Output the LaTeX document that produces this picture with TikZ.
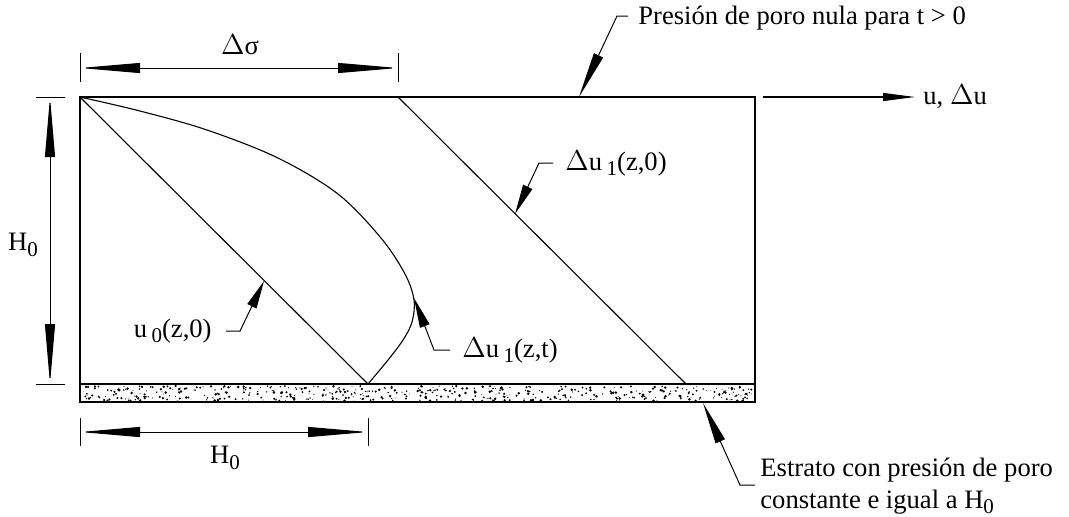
\documentclass[tikz,border=0pt]{standalone}
\usepackage{fontspec}
\setmainfont{Liberation Serif}
\usetikzlibrary{arrows.meta,positioning,calc}

\newcommand{\low}[1]{\raisebox{-0.45ex}{\fontsize{10.5}{10.5}\selectfont #1}}

\begin{document}
\begin{tikzpicture}[
    x=0.5pt, y=-0.5pt,
    font=\fontsize{13.3}{16}\selectfont,
    wall/.style={line width=0.55pt},
    tick/.style={line width=0.5pt},
    dimline/.style={line width=0.5pt,
      {Triangle[length=30pt,width=5pt]}-{Triangle[length=30pt,width=5pt]}},
    leader/.style={line width=0.5pt, -{Triangle[length=#1,width=5pt]}},
    leader/.default=15pt,
    axis/.style={line width=0.55pt, -{Triangle[length=16pt,width=4pt]}},
    lbl/.style={inner sep=0pt}
  ]
    \useasboundingbox (0,0) rectangle (1069,516);

    \coordinate (tl) at (80,97);
    \coordinate (tr) at (755,97);
    \coordinate (bl) at (80,384);
    \coordinate (br) at (755,384);
    \coordinate (sbl) at (80,402);
    \coordinate (sbr) at (755,402);
    \coordinate (u0end) at (368,384);
    \coordinate (dsig) at (398,97);
    \coordinate (du0end) at (686,384);

    % stratum
    \fill[white] (bl) rectangle (sbr);
    \pgfmathsetseed{42}
    \foreach \i in {1,...,520}{
      \pgfmathsetmacro\rx{82+671*rnd}
      \pgfmathsetmacro\ry{386+15*rnd}
      \pgfmathsetmacro\rr{0.2+0.5*rnd}
      \fill[black] (\rx,\ry) circle (\rr pt);
    }
    \draw[wall] (bl) rectangle (sbr);

    % layer
    \draw[wall] (bl) -- (tl) -- (tr) -- (br);

    \draw[axis] (763,97) coordinate (ax) -- (915,97) coordinate (axend);
    \node[lbl, anchor=west] (uaxis) at (923,97) {u, $\Delta$u};

    \draw[wall] (tl) -- (u0end);
    \draw[wall] (dsig) -- (du0end);
    \draw[wall] plot[smooth, tension=0.55] coordinates {
      (80,97) (140,111) (207,130) (278,158) (338,194) (381,238)
      (405,274) (414,300) (412,322) (403,340) (388,360) (368,384)};

    % dimensions
    \draw[tick] (80,53) -- (80,82);
    \draw[tick] (398,53) -- (398,82);
    \draw[dimline] (80,68) -- (398,68);
    \node[lbl] (dsigma) at (240,45) {$\Delta$σ};

    \draw[tick] (36,97) -- (65,97);
    \draw[tick] (36,384) -- (65,384);
    \draw[dimline] (50,97) -- (50,384);
    \node[lbl] (hleft) at (23,245) {H\low{0}};

    \draw[tick] (80,418) -- (80,446);
    \draw[tick] (368,418) -- (368,446);
    \draw[dimline] (80,432) -- (368,432);
    \node[lbl] (hbottom) at (225,458) {H\low{0}};

    % labels
    \coordinate (ptop) at (579,97);
    \node[lbl, anchor=west] (nula) at (638,18) {Presión de poro nula para t > 0};
    \draw[leader=23pt] ([xshift=-5pt]nula.west |- 0,16) -- ++(-11,0) -- (ptop);

    \coordinate (pdu0) at (515,214);
    \node[lbl, anchor=west] (du0) at (565,163) {$\Delta$u\,\low{1}(z,0)};
    \draw[leader=15pt] ([xshift=-6pt]du0.west) -- ++(-14,0) -- (pdu0);

    \coordinate (pu0) at (264,281);
    \node[lbl, anchor=east] (u0) at (212,331) {u\,\low{0}(z,0)};
    \draw[leader=14pt] ([xshift=7pt]u0.east) -- ++(14,0) -- (pu0);

    \coordinate (pdut) at (414,298);
    \node[lbl, anchor=west] (dut) at (462,350) {$\Delta$u\,\low{1}(z,t)};
    \draw[leader=15pt] ([xshift=-6pt]dut.west) -- ++(-16,0) -- (pdut);

    \coordinate (pstr) at (703,403);
    \node[lbl, anchor=west, align=left] (estrato) at (760,486)
      {Estrato con presión de poro\\constante e igual a H\low{0}};
    \draw[leader=21pt] (755,485) -- (740,485) -- (pstr);
\end{tikzpicture}
\end{document}
